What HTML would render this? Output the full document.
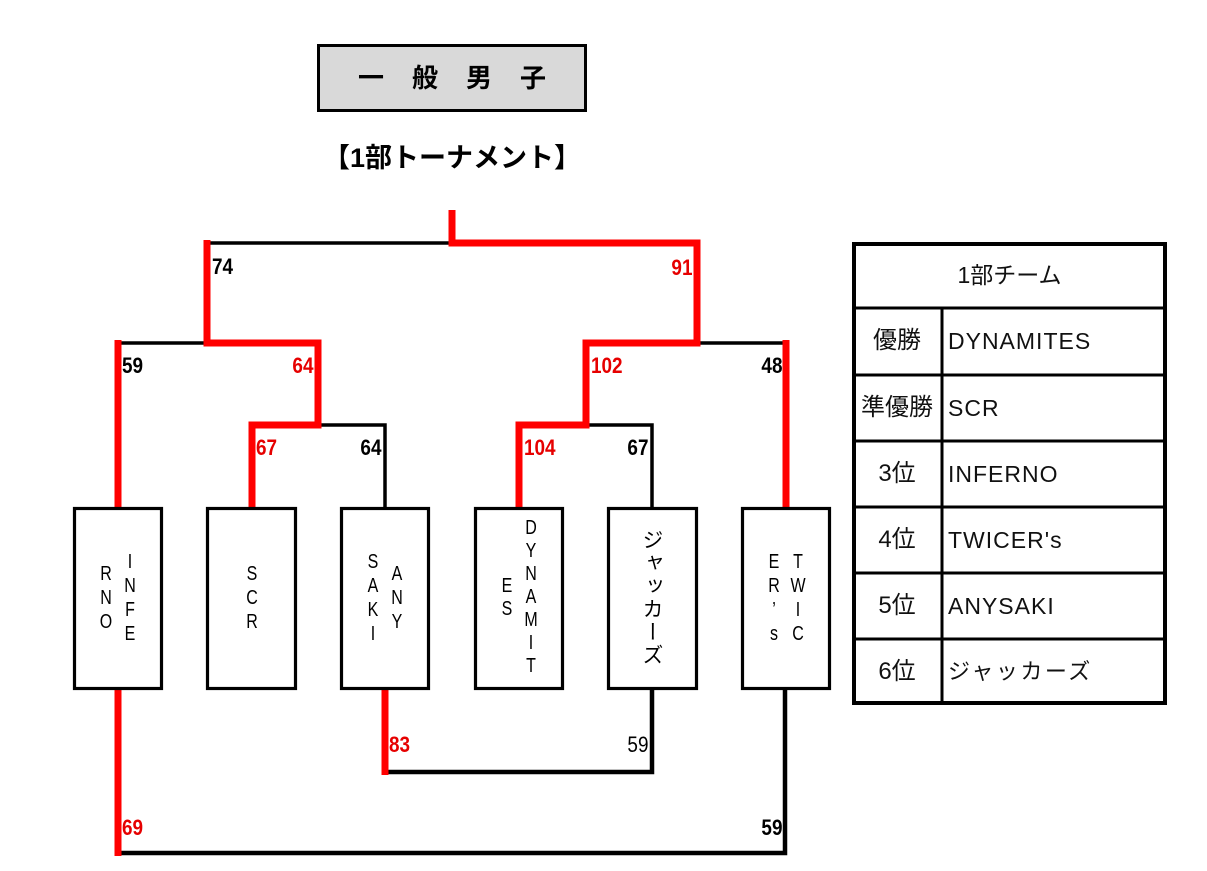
<!DOCTYPE html>
<html>
<head>
<meta charset="utf-8">
<style>
  html,body{margin:0;padding:0;background:#fff;}
  body{width:1207px;height:871px;position:relative;overflow:hidden;font-family:"Liberation Sans","Noto Sans CJK JP",sans-serif;}
  svg{position:absolute;left:0;top:0;}
  .t{position:absolute;white-space:nowrap;}
  .n{position:absolute;font-size:22px;line-height:22px;font-weight:bold;white-space:nowrap;color:#000;}
  .nl{transform:scaleX(0.86);transform-origin:left center;}
  .nr{transform:scaleX(0.86);transform-origin:right center;text-align:right;}
  .red{color:#e60000;}
  .col{position:absolute;width:24px;text-align:center;font-size:20px;line-height:24px;color:#000;}
  .col span{display:block;transform:scaleX(0.8);}
  .tt{position:absolute;font-family:"Liberation Sans","Noto Sans CJK JP",sans-serif;color:#111;white-space:nowrap;}
  .lc{width:90px;left:852px;text-align:center;font-size:24px;line-height:24px;}
  .rc{left:948px;font-size:23px;line-height:24px;letter-spacing:1px;}
</style>
</head>
<body>
<svg width="1207" height="871" viewBox="0 0 1207 871">
  <rect x="318.5" y="45.5" width="267" height="65" fill="#d9d9d9" stroke="#000" stroke-width="3"/>

  <g stroke="#000" stroke-width="3.5" fill="none">
    <path d="M207 243 H452"/>
    <path d="M118 343 H207"/>
    <path d="M318 425 H385 V507"/>
    <path d="M697 343 H786"/>
    <path d="M586 425 H652 V507"/>
  </g>
  <g stroke="#000" stroke-width="4.5" fill="none">
    <path d="M118 853 H785 V690"/>
    <path d="M385 772 H652 V690"/>
  </g>
  <g stroke="#ff0000" stroke-width="7" fill="none" stroke-linejoin="miter">
    <path d="M452 210 V243 H697 V343 H586 V425 H519 V507"/>
    <path d="M207 240 V343 H318 V425 H252 V507"/>
    <path d="M118 340 V507"/>
    <path d="M786 340 V507"/>
    <path d="M118 690 V856"/>
    <path d="M385 690 V775"/>
  </g>

  <g fill="#fff" stroke="#000" stroke-width="3.2">
    <rect x="74.5" y="508.5" width="87" height="180"/>
    <rect x="207.5" y="508.5" width="88" height="180"/>
    <rect x="341.5" y="508.5" width="87" height="180"/>
    <rect x="475.5" y="508.5" width="87" height="180"/>
    <rect x="608.5" y="508.5" width="88" height="180"/>
    <rect x="742.5" y="508.5" width="87" height="180"/>
  </g>

  <rect x="854" y="244" width="311" height="459" fill="#fff" stroke="#000" stroke-width="4"/>
  <g stroke="#000" stroke-width="3">
    <line x1="852" y1="308" x2="1167" y2="308"/>
    <line x1="852" y1="375" x2="1167" y2="375"/>
    <line x1="852" y1="441" x2="1167" y2="441"/>
    <line x1="852" y1="507" x2="1167" y2="507"/>
    <line x1="852" y1="573" x2="1167" y2="573"/>
    <line x1="852" y1="639" x2="1167" y2="639"/>
    <line x1="942" y1="308" x2="942" y2="705"/>
  </g>
</svg>

<div class="t" style="left:357px;top:64px;width:28px;text-align:center;font-size:26px;line-height:26px;font-weight:bold;font-family:'Noto Sans CJK JP',sans-serif;">一</div>
<div class="t" style="left:411px;top:64px;width:28px;text-align:center;font-size:26px;line-height:26px;font-weight:bold;font-family:'Noto Sans CJK JP',sans-serif;">般</div>
<div class="t" style="left:465px;top:64px;width:28px;text-align:center;font-size:26px;line-height:26px;font-weight:bold;font-family:'Noto Sans CJK JP',sans-serif;">男</div>
<div class="t" style="left:519px;top:64px;width:28px;text-align:center;font-size:26px;line-height:26px;font-weight:bold;font-family:'Noto Sans CJK JP',sans-serif;">子</div>

<div class="t" style="left:323px;top:144px;font-size:27px;line-height:28px;font-weight:bold;">【1部トーナメント】</div>

<div class="n nl" style="left:212px;top:256px;">74</div>
<div class="n nr red" style="right:515px;top:257px;">91</div>
<div class="n nl" style="left:122px;top:355px;">59</div>
<div class="n nr red" style="right:894px;top:355px;">64</div>
<div class="n nl red" style="left:591px;top:355px;">102</div>
<div class="n nr" style="right:425px;top:355px;">48</div>
<div class="n nl red" style="left:256px;top:437px;">67</div>
<div class="n nr" style="right:826px;top:437px;">64</div>
<div class="n nl red" style="left:524px;top:437px;">104</div>
<div class="n nr" style="right:559px;top:437px;">67</div>
<div class="n nl red" style="left:389px;top:734px;">83</div>
<div class="n nr" style="right:559px;top:734px;font-weight:normal;">59</div>
<div class="n nl red" style="left:122px;top:817px;">69</div>
<div class="n nr" style="right:425px;top:817px;">59</div>

<div class="col" style="left:118px;top:550px;"><span>I</span><span>N</span><span>F</span><span>E</span></div>
<div class="col" style="left:94px;top:562px;"><span>R</span><span>N</span><span>O</span></div>

<div class="col" style="left:240px;top:562px;"><span>S</span><span>C</span><span>R</span></div>

<div class="col" style="left:385px;top:562px;"><span>A</span><span>N</span><span>Y</span></div>
<div class="col" style="left:361px;top:550px;"><span>S</span><span>A</span><span>K</span><span>I</span></div>

<div class="col" style="left:519px;top:517px;line-height:23px;"><span>D</span><span>Y</span><span>N</span><span>A</span><span>M</span><span>I</span><span>T</span></div>
<div class="col" style="left:495px;top:575px;line-height:23px;"><span>E</span><span>S</span></div>

<div class="t" style="left:638px;top:529px;width:30px;height:140px;writing-mode:vertical-rl;text-orientation:upright;font-family:'Noto Sans CJK JP',sans-serif;font-size:21px;line-height:30px;letter-spacing:2px;color:#000;">ジャッカーズ</div>

<div class="col" style="left:786px;top:550px;"><span>T</span><span>W</span><span>I</span><span>C</span></div>
<div class="col" style="left:762px;top:550px;"><span>E</span><span>R</span><span>’</span><span>s</span></div>

<div class="tt" style="left:852px;width:315px;top:263px;text-align:center;font-size:23px;line-height:24px;">1部チーム</div>

<div class="tt lc" style="top:329px;">優勝</div>
<div class="tt rc" style="top:329px;">DYNAMITES</div>

<div class="tt lc" style="top:396px;">準優勝</div>
<div class="tt rc" style="top:396px;">SCR</div>

<div class="tt lc" style="top:462px;">3位</div>
<div class="tt rc" style="top:462px;">INFERNO</div>

<div class="tt lc" style="top:528px;">4位</div>
<div class="tt rc" style="top:528px;">TWICER's</div>

<div class="tt lc" style="top:594px;">5位</div>
<div class="tt rc" style="top:594px;">ANYSAKI</div>

<div class="tt lc" style="top:660px;">6位</div>
<div class="tt rc" style="top:660px;font-size:22px;letter-spacing:2.5px;">ジャッカーズ</div>
</body>
</html>
